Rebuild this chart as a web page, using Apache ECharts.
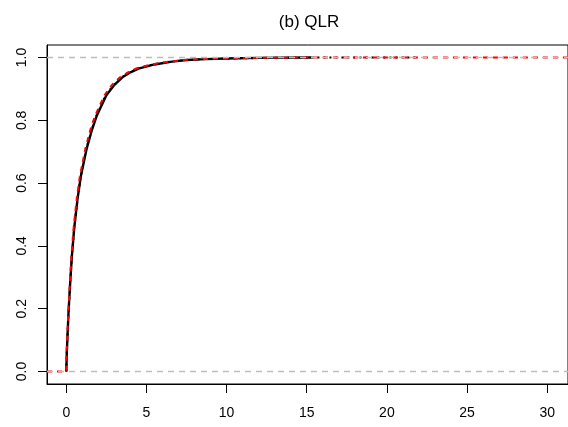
<!DOCTYPE html>
<html>
<head>
<meta charset="utf-8">
<script src="https://cdn.jsdelivr.net/npm/echarts@6/dist/echarts.min.js"></script>
<style>
  html, body { margin: 0; padding: 0; background: #fff; }
  #chart { width: 568px; height: 427px; }
</style>
</head>
<body>
<div id="chart"></div>
<script>
// values
var xTicks = [0, 5, 10, 15, 20, 25, 30];
var yTicks = [0, 0.2, 0.4, 0.6, 0.8, 1.0];
var refLevels = [0, 1];

// empirical cdf (black solid)
var cdfSolid = [
  [0, 0], [0.03, 0.06], [0.08, 0.12], [0.14, 0.19], [0.25, 0.29], [0.35, 0.37],
  [0.5, 0.46], [0.7, 0.55], [0.9, 0.62], [1.27, 0.71], [1.6, 0.77], [1.9, 0.815],
  [2.5, 0.88], [3, 0.913], [3.5, 0.937], [4, 0.953], [4.5, 0.965], [5.5, 0.978],
  [6.6, 0.987], [7.5, 0.992], [8.7, 0.995], [10, 0.997], [12, 0.999], [15.3, 1.0]
];
// second cdf (black dotted)
var cdfDotted = [
  [0, 0], [0.03, 0.06], [0.08, 0.12], [0.14, 0.19], [0.25, 0.29], [0.35, 0.37],
  [0.5, 0.46], [0.7, 0.55], [0.9, 0.62], [1.25, 0.71], [1.58, 0.77], [1.88, 0.815],
  [2.45, 0.88], [2.95, 0.913], [3.45, 0.937], [3.95, 0.953], [4.45, 0.965], [5.4, 0.978],
  [6.5, 0.987], [7.4, 0.992], [8.6, 0.995], [10, 0.997], [13, 0.999], [16, 1.0], [21.9, 1.0]
];
// reference cdf (red dashed)
var cdfRed = [
  [-1.205, 0], [0, 0], [0.02, 0.06], [0.07, 0.12], [0.13, 0.19], [0.23, 0.29], [0.32, 0.37],
  [0.46, 0.46], [0.65, 0.55], [0.84, 0.62], [1.19, 0.71], [1.5, 0.77], [1.8, 0.815],
  [2.38, 0.88], [2.85, 0.913], [3.35, 0.937], [3.85, 0.953], [4.35, 0.965], [5.3, 0.978],
  [6.4, 0.987], [7.3, 0.992], [8.5, 0.995], [10, 0.997], [12, 0.999], [15, 1.0], [31.3, 1.0]
];

var chart = echarts.init(document.getElementById('chart'));
var font = 'Liberation Sans, Arial, sans-serif';

var options = {
  animation: false,
  backgroundColor: '#fff',
  graphic: [{
    type: 'text',
    x: 309,
    y: 22,
    style: {
      text: '(b) QLR',
      font: '17px ' + font,
      fill: '#000',
      align: 'center',
      verticalAlign: 'middle'
    }
  }],
  grid: {
    left: 47,
    top: 45,
    right: -8,
    bottom: 43,
    show: true,
    borderColor: '#000',
    borderWidth: 1,
    backgroundColor: 'transparent'
  },
  xAxis: {
    type: 'value',
    min: -1.205,
    max: 31.3,
    axisLine: {show: true, onZero: false, lineStyle: {color: '#000', width: 1}},
    axisTick: {show: true, customValues: xTicks, length: 9, lineStyle: {color: '#000'}},
    axisLabel: {customValues: xTicks, margin: 22, color: '#000', fontSize: 14, fontFamily: font},
    splitLine: {show: false}
  },
  yAxis: {
    type: 'value',
    min: -0.04,
    max: 1.04,
    axisLine: {show: true, onZero: false, lineStyle: {color: '#000', width: 1}},
    axisTick: {show: true, customValues: yTicks, length: 9, lineStyle: {color: '#000'}},
    axisLabel: {
      customValues: yTicks, rotate: 90, margin: 18, color: '#000', fontSize: 14, fontFamily: font,
      formatter: function (v) { return v.toFixed(1); }
    },
    splitLine: {show: false}
  },
  series: [
    {
      type: 'line',
      data: cdfSolid,
      showSymbol: false,
      silent: true,
      lineStyle: {color: '#000', width: 2.4, type: 'solid'},
      markLine: {
        silent: true,
        symbol: ['none', 'none'],
        label: {show: false},
        lineStyle: {color: '#bdbdbd', width: 1.4, type: [6, 5]},
        data: refLevels.map(function (v) { return {yAxis: v}; })
      }
    },
    {
      type: 'line',
      data: cdfDotted,
      showSymbol: false,
      silent: true,
      lineStyle: {color: '#000', width: 2, type: [2, 4]}
    },
    {
      type: 'line',
      data: cdfRed,
      showSymbol: false,
      silent: true,
      lineStyle: {color: '#ff0000', width: 2, type: [5, 5]}
    }
  ]
};
chart.setOption(options);
</script>
</body>
</html>
